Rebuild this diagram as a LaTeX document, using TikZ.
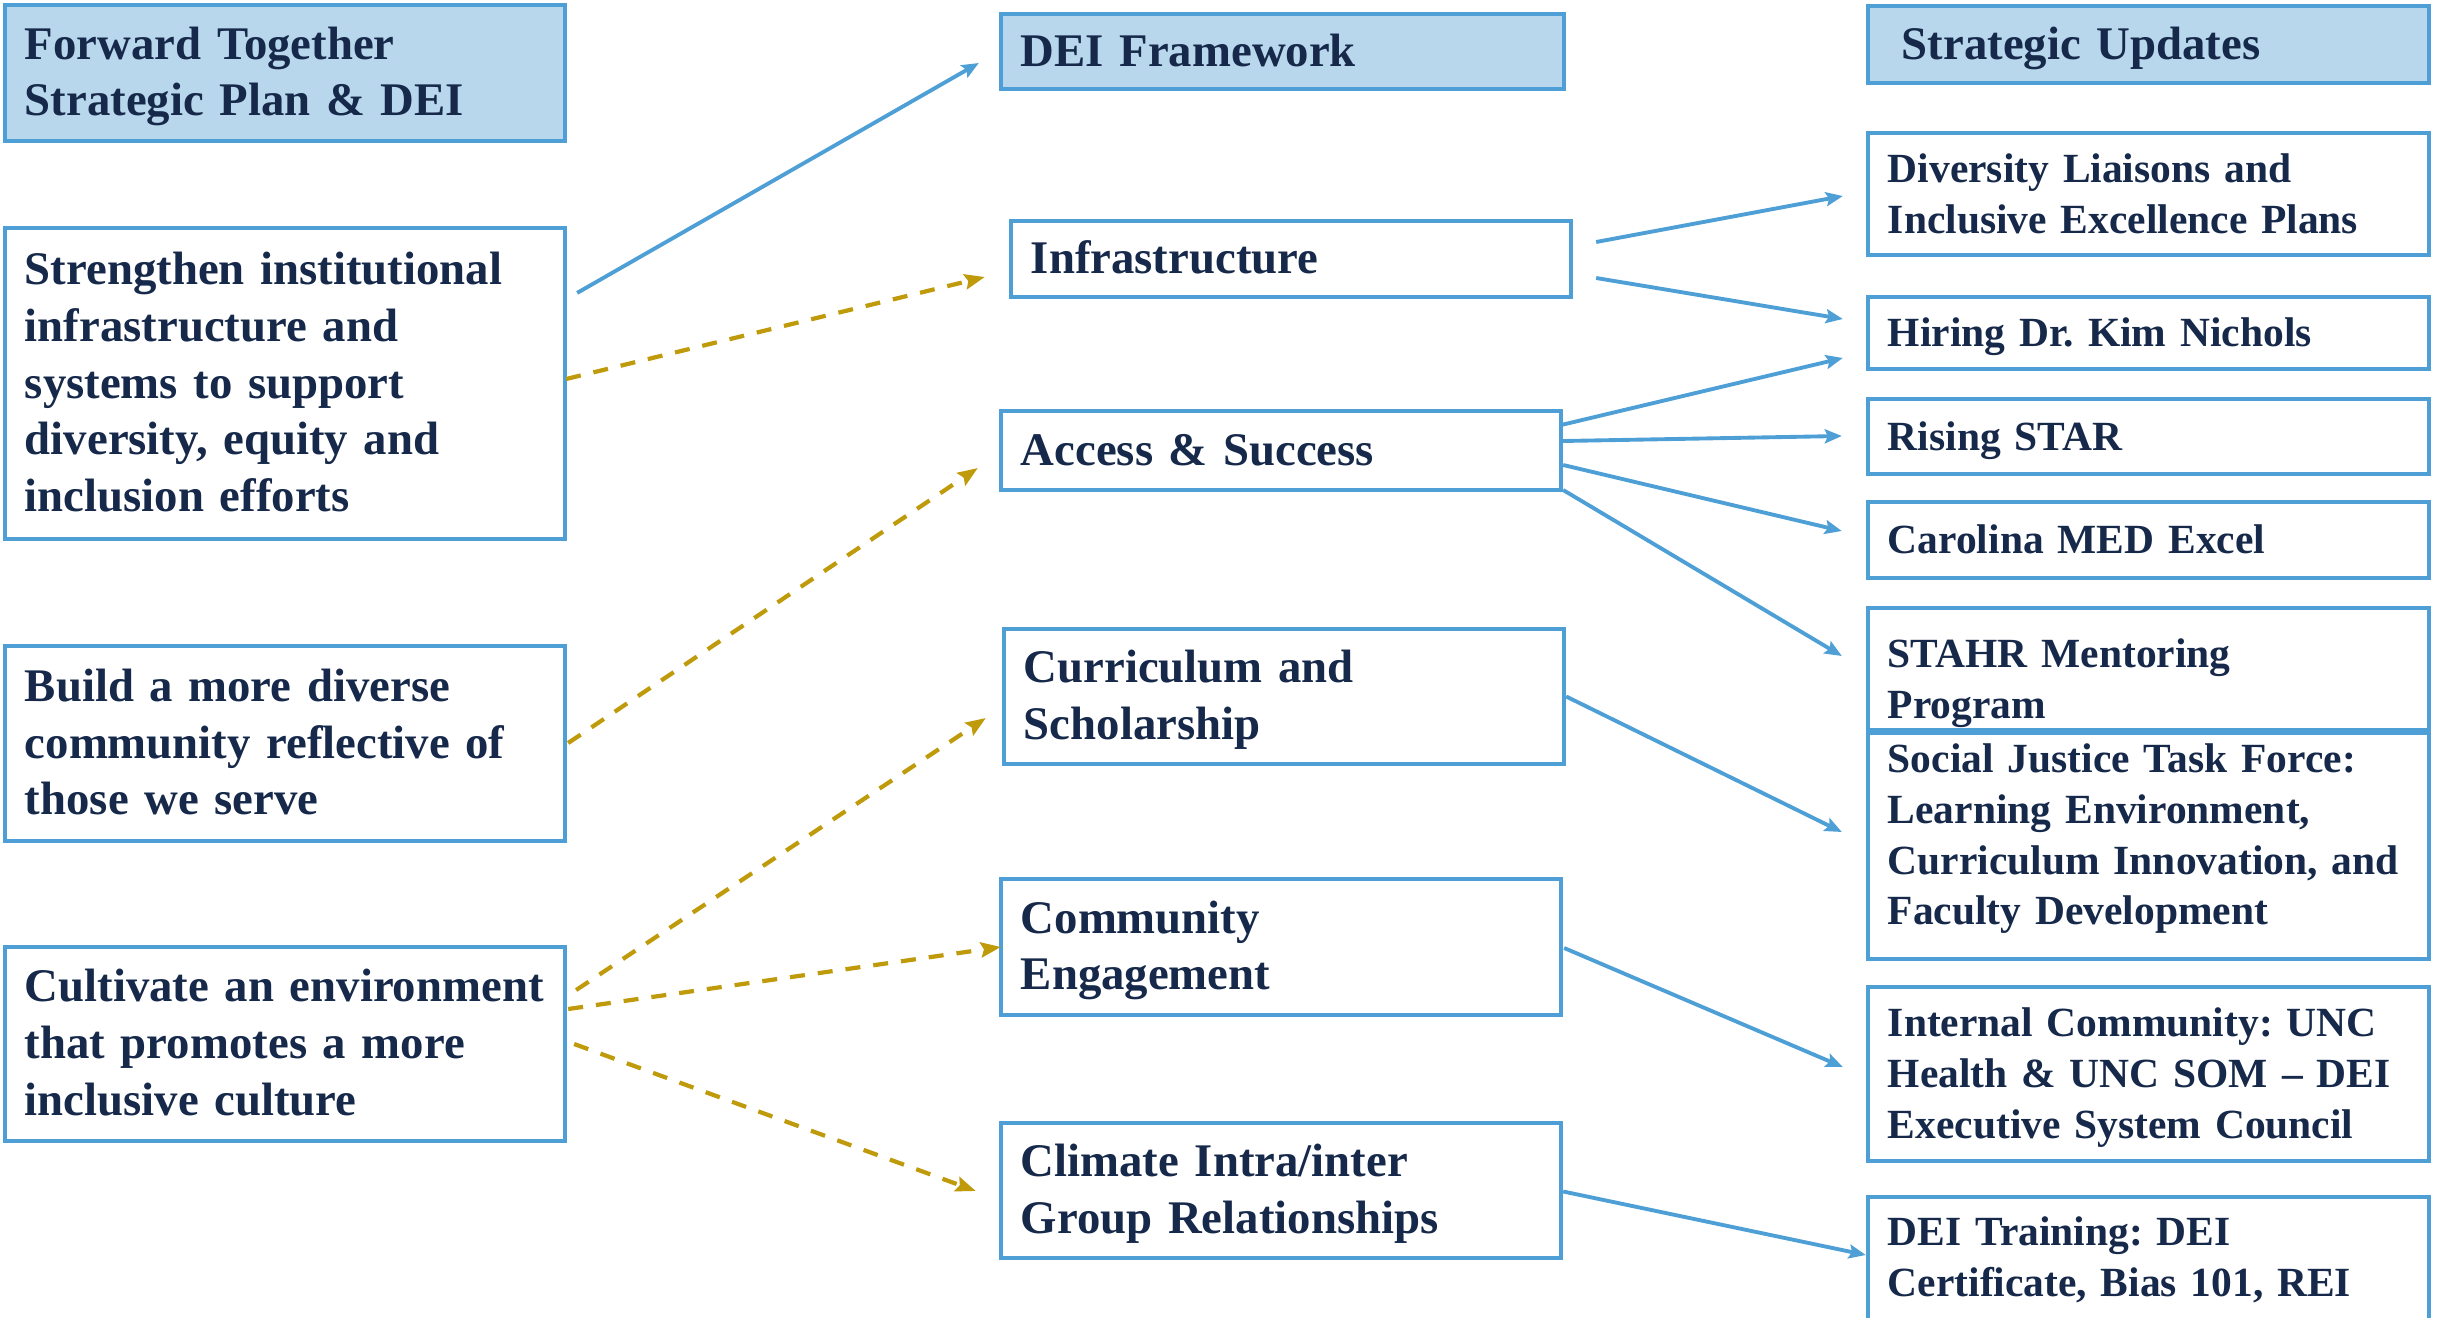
\documentclass[tikz,border=0pt]{standalone}
\usepackage{fontspec}
\setmainfont{Liberation Serif}
\usetikzlibrary{arrows.meta,calc}
\frenchspacing

\definecolor{frame}{HTML}{4E9FD6}
\definecolor{headfill}{HTML}{B8D7EC}
\definecolor{ink}{HTML}{16294A}
\definecolor{gold}{HTML}{BF9A0A}

\tikzset{
  txt/.style 2 args={execute at begin node={\rule{0pt}{#1}},
                     execute at end node={\rule[-#2]{0pt}{0pt}}},
  box/.style={rectangle, draw=frame, line width=1.2pt, fill=white,
              inner xsep=0.2cm, inner ysep=0pt, outer sep=0pt,
              align=left, text=ink, text width=5.2cm},
  goalbox/.style={box, font=\bfseries\fontsize{13.3}{16.2}\selectfont, txt={0.41cm}{0.12cm}},
  updbox/.style={box, font=\bfseries\fontsize{11.8}{14.5}\selectfont, txt={0.39cm}{0.12cm}},
  headbox/.style={goalbox, fill=headfill},
  link/.style={draw=frame, line width=1.1pt,
               -{Stealth[length=0.17cm,width=0.14cm,inset=0.03cm]}},
  goal/.style={draw=gold, line width=1.2pt, dash pattern=on 0.15cm off 0.13cm,
               -{Stealth[length=0.2cm,width=0.15cm,inset=0.03cm]}},
}

\begin{document}
\begin{tikzpicture}[x=0.01cm, y=-0.01cm]
\useasboundingbox (0,0) rectangle (2453,1318);
\begin{scope}
\clip (0,0) rectangle (2453,1318);

% left column: strategic plan goals
\node[headbox, minimum height=1.36cm] (plan) at (285,73) {Forward Together\\Strategic Plan \& DEI};
\node[goalbox, minimum height=3.11cm] (strength) at (285,383.5)
  {Strengthen institutional\\infrastructure and\\systems to support\\diversity, equity and\\inclusion efforts};
\node[goalbox, minimum height=1.95cm] (build) at (285,743.5)
  {Build a more diverse\\community reflective of\\those we serve};
\node[goalbox, minimum height=1.94cm] (cultivate) at (285,1044)
  {Cultivate an environment\\that promotes a more\\inclusive culture};

% middle column: DEI framework
\node[headbox, minimum height=0.75cm, text width=5.23cm] (dei) at (1282.5,51.5) {DEI Framework};
\node[goalbox, minimum height=0.76cm] (infra) at (1291,259) {Infrastructure};
\node[goalbox, minimum height=0.79cm] (access) at (1281,450.5) {Access \& Success};
\node[goalbox, minimum height=1.35cm] (curric) at (1284,696.5) {Curriculum and\\Scholarship};
\node[goalbox, minimum height=1.36cm] (commun) at (1281,947) {Community\\Engagement};
\node[goalbox, minimum height=1.35cm] (climate) at (1281,1190.5) {Climate Intra/inter\\Group Relationships};

% right column: strategic updates
\node[updbox, fill=headfill, font=\bfseries\fontsize{13.3}{16.2}\selectfont, txt={0.41cm}{0.12cm},
      minimum height=0.77cm, text width=5.21cm] (strat) at (2148.5,44.5) {\hspace*{0.14cm}Strategic Updates};
\node[updbox, minimum height=1.22cm, text width=5.21cm] (liaisons) at (2148.5,194)
  {Diversity Liaisons and\\Inclusive Excellence Plans};
\node[updbox, minimum height=0.72cm, text width=5.21cm] (hiring) at (2148.5,333) {Hiring Dr. Kim Nichols};
\node[updbox, minimum height=0.75cm, text width=5.21cm] (rising) at (2148.5,436.5) {Rising STAR};
\node[updbox, minimum height=0.76cm, text width=5.21cm] (carolina) at (2148.5,540) {Carolina MED Excel};
\node[updbox, minimum height=1.08cm, text width=5.21cm, txt={0.59cm}{0.12cm}] (stahr) at (2148.5,669)
  {STAHR Mentoring\\Program};
\node[updbox, minimum height=2.06cm, text width=5.21cm, txt={0.39cm}{0.34cm}] (social) at (2148.5,846)
  {Social Justice Task Force:\\Learning Environment,\\Curriculum Innovation, and\\Faculty Development};
\node[updbox, minimum height=1.74cm, text width=5.21cm] (internal) at (2148.5,1074)
  {Internal Community: UNC\\Health \& UNC SOM -- DEI\\Executive System Council};
\node[updbox, minimum height=1.43cm, text width=5.21cm, txt={0.39cm}{0.34cm}] (training) at (2148.5,1268.5)
  {DEI Training: DEI\\Certificate, Bias 101, REI};

% plan goals feeding the framework
\draw[link] ($(strength.north east)+(12,65)$) -- ($(dei.west)+(-22,11.5)$);
\draw[goal] ($(strength.east)+(1,-4.5)$) -- ($(infra.west)+(-26,18)$);
\draw[goal] ($(build.east)+(3,-0.5)$) -- ($(access.west)+(-23,17.5)$);
\draw[goal] ($(cultivate.east)+(11,-54)$) -- ($(curric.west)+(-18,21.5)$);
\draw[goal] ($(cultivate.east)+(3,-35)$) -- ($(commun.west)+(0,0)$);
\draw[goal] ($(cultivate.east)+(9,0)$) -- ($(climate.west)+(-25,0.5)$);

% framework areas to strategic updates
\draw[link] ($(infra.east)+(25,-17)$) -- ($(liaisons.west)+(-25,2)$);
\draw[link] ($(infra.east)+(25,19)$) -- ($(hiring.west)+(-25,-14)$);
\draw[link] ($(access.east)+(0,-25.5)$) -- ($(hiring.west)+(-25,25)$);
\draw[link] ($(access.east)+(2,-9.5)$) -- ($(rising.west)+(-26,-0.5)$);
\draw[link] ($(access.east)+(2,14.5)$) -- ($(carolina.west)+(-26,-9)$);
\draw[link] ($(access.south east)+(2,0)$) -- ($(stahr.west)+(-26,-13)$);
\draw[link] ($(curric.east)+(2,0)$) -- ($(social.west)+(-26,-14)$);
\draw[link] ($(commun.east)+(3,1)$) -- ($(internal.west)+(-25,-7)$);
\draw[link] ($(climate.east)+(2,1)$) -- ($(training.west)+(-2,-13.5)$);
\end{scope}
\end{tikzpicture}
\end{document}
